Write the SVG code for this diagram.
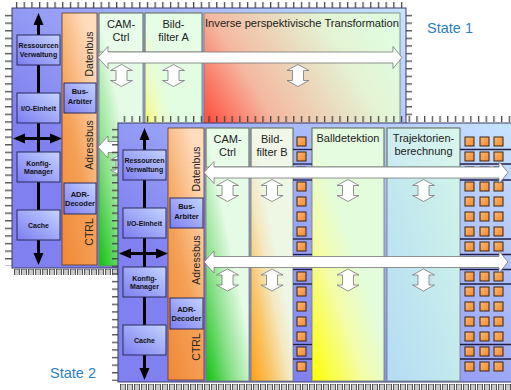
<svg xmlns="http://www.w3.org/2000/svg" xmlns:xlink="http://www.w3.org/1999/xlink" width="511" height="390" viewBox="0 0 511 390">
<style>
.chipedge{stroke:#3a3a6a;stroke-width:1}
.box{fill:url(#boxG);stroke:#2a2a5a;stroke-width:1}
.bt{font-family:"Liberation Sans",Arial,sans-serif;font-weight:bold;font-size:7px;fill:#111;text-anchor:middle}
.bt2{font-family:"Liberation Sans",Arial,sans-serif;font-weight:bold;font-size:7.5px;fill:#111;text-anchor:middle}
.ht{font-family:"Liberation Sans",Arial,sans-serif;font-size:11px;fill:#222;text-anchor:middle}
.vt{font-family:"Liberation Sans",Arial,sans-serif;font-size:10.5px;fill:#222;text-anchor:middle}
.col{stroke:#6f7d6f;stroke-width:0.8}
.hdr{fill:#ffffff;fill-opacity:0.15;stroke:#6f7d6f;stroke-width:0.8}
.orng{fill:url(#orangeG);stroke:#5a3a20;stroke-width:0.8}
.bus{fill:#ffffff;stroke:#777777;stroke-width:0.8}
.blk{stroke:#000;stroke-width:3;fill:none}
.ah{fill:#000}
.sq{fill:url(#sqG);stroke:#3a2410;stroke-width:1}
.sep{stroke:#1e1e48;stroke-width:1.3}
.state{font-family:"Liberation Sans",Arial,sans-serif;font-size:14.5px;fill:#2b7fc4}
</style>
<defs>
<linearGradient id="chip1G" gradientUnits="userSpaceOnUse" x1="194" y1="265" x2="405" y2="8"><stop offset="0" stop-color="#8080f0"/><stop offset="1" stop-color="#c8e4ff"/></linearGradient>
<linearGradient id="chip2G" gradientUnits="userSpaceOnUse" x1="300" y1="380" x2="511" y2="123"><stop offset="0" stop-color="#8080f0"/><stop offset="1" stop-color="#c8e4ff"/></linearGradient>
<linearGradient id="boxG" x1="0" y1="1" x2="1" y2="0"><stop offset="0" stop-color="#7c7cf0"/><stop offset="1" stop-color="#c4d4ff"/></linearGradient>
<linearGradient id="orangeG" x1="0" y1="1" x2="0.6" y2="0"><stop offset="0" stop-color="#f08838"/><stop offset="0.5" stop-color="#f5a055"/><stop offset="1" stop-color="#ffdcbc"/></linearGradient>
<linearGradient id="greenG" x1="0" y1="1" x2="0.5" y2="0.4"><stop offset="0" stop-color="#10c010"/><stop offset="0.5" stop-color="#88e088"/><stop offset="1" stop-color="#e6fbe6"/></linearGradient>
<linearGradient id="yellowAG" x1="0" y1="1" x2="0.5" y2="0.4"><stop offset="0" stop-color="#ffff00"/><stop offset="0.55" stop-color="#f8f870"/><stop offset="0.8" stop-color="#ecfcc8"/><stop offset="1" stop-color="#e2fde2"/></linearGradient>
<linearGradient id="invG" gradientUnits="userSpaceOnUse" x1="205" y1="125" x2="380" y2="15"><stop offset="0" stop-color="#ff4a3a"/><stop offset="0.3" stop-color="#f4b8a0"/><stop offset="0.75" stop-color="#e4f4d4"/><stop offset="1" stop-color="#e0fce0"/></linearGradient>
<linearGradient id="orangeBG" x1="0" y1="1" x2="0.5" y2="0.4"><stop offset="0" stop-color="#ffa010"/><stop offset="0.45" stop-color="#f8c870"/><stop offset="0.75" stop-color="#f4e8c0"/><stop offset="1" stop-color="#eef6e4"/></linearGradient>
<linearGradient id="yellowBG" x1="0" y1="1" x2="0.5" y2="0.4"><stop offset="0" stop-color="#ffff00"/><stop offset="0.6" stop-color="#f4fca8"/><stop offset="1" stop-color="#e2fcdc"/></linearGradient>
<linearGradient id="blueG" x1="0" y1="1" x2="1" y2="0"><stop offset="0" stop-color="#b4dcf4"/><stop offset="1" stop-color="#d4f6e8"/></linearGradient>
<linearGradient id="sqG" x1="0" y1="0" x2="1" y2="1"><stop offset="0" stop-color="#ffb870"/><stop offset="1" stop-color="#f08a30"/></linearGradient>
<pattern id="vtp" patternUnits="userSpaceOnUse" x="14" y="0" width="7.7" height="400"><rect x="2" y="0" width="1.2" height="400" fill="#3a3a3a"/></pattern>
<pattern id="htp" patternUnits="userSpaceOnUse" x="0" y="12" width="20" height="7.6"><rect x="0" y="3" width="20" height="1.2" fill="#3a3a3a"/></pattern>
<pattern id="bp1" patternUnits="userSpaceOnUse" x="14" y="269" width="7" height="7"><rect x="0.5" y="0" width="5" height="7" fill="#c8c8c8" stroke="#333" stroke-width="0.8"/></pattern>
<pattern id="bp2" patternUnits="userSpaceOnUse" x="120" y="384" width="7" height="7"><rect x="0.5" y="0" width="5" height="7" fill="#c8c8c8" stroke="#333" stroke-width="0.8"/></pattern>
<path id="va" class="bus" d="M0,0 L11,6 L5.5,6 L5.5,16 L11,16 L0,22 L-11,16 L-5.5,16 L-5.5,6 L-11,6 Z"/>
<g id="sqcol">
<rect class="sq" x="0" y="137" width="9" height="9"/><rect class="sq" x="0" y="152" width="9" height="9"/><rect class="sq" x="0" y="167" width="9" height="9"/><rect class="sq" x="0" y="182" width="9" height="9"/>
<rect class="sq" x="0" y="197" width="9" height="9"/><rect class="sq" x="0" y="212" width="9" height="9"/><rect class="sq" x="0" y="227" width="9" height="9"/><rect class="sq" x="0" y="242" width="9" height="9"/>
<rect class="sq" x="0" y="257" width="9" height="9"/><rect class="sq" x="0" y="272" width="9" height="9"/><rect class="sq" x="0" y="287" width="9" height="9"/><rect class="sq" x="0" y="302" width="9" height="9"/>
<rect class="sq" x="0" y="317" width="9" height="9"/><rect class="sq" x="0" y="332" width="9" height="9"/><rect class="sq" x="0" y="347" width="9" height="9"/><rect class="sq" x="0" y="362" width="9" height="9"/>
</g>
</defs>
<rect x="0" y="0" width="511" height="390" fill="#ffffff"/>

<!-- ================= STATE 1 ================= -->
<g id="state1">
<g id="s1-pins">
<rect x="14" y="2" width="391" height="6" fill="url(#vtp)"/>
<rect x="5" y="12" width="7" height="254" fill="url(#htp)"/>
<rect x="406" y="12" width="6" height="106" fill="url(#htp)"/>
<rect x="14" y="269" width="392" height="6" fill="url(#bp1)"/>
</g>
<rect id="s1-body" x="12" y="8" width="394" height="260" fill="url(#chip1G)" class="chipedge"/>
<g id="s1-connectors-back">
<line x1="38.5" y1="24" x2="38.5" y2="254" class="blk"/>
<polygon class="ah" points="38.5,13 43.5,25 33.5,25"/>
<polygon class="ah" points="38.5,265 43.5,253 33.5,253"/>
<line x1="24" y1="138.5" x2="51" y2="138.5" class="blk"/>
<polygon class="ah" points="13,138.5 25,133.5 25,143.5"/>
<polygon class="ah" points="62,138.5 50,133.5 50,143.5"/>
</g>
<g id="s1-ressourcen"><rect class="box" x="17" y="35" width="43" height="30"/><text class="bt" x="38.5" y="48">Ressourcen</text><text class="bt" x="38.5" y="56.5">Verwaltung</text></g>
<g id="s1-io"><rect class="box" x="17" y="93" width="43" height="30"/><text class="bt" x="38.5" y="111">I/O-Einheit</text></g>
<g id="s1-konfig"><rect class="box" x="17" y="152" width="43" height="30"/><text class="bt" x="38.5" y="165.5">Konfig-</text><text class="bt" x="38.5" y="174">Manager</text></g>
<g id="s1-cache"><rect class="box" x="17" y="210" width="43" height="30"/><text class="bt" x="38.5" y="227.5">Cache</text></g>
<g id="s1-bus">
<rect class="orng" x="62" y="13" width="35" height="252"/>
<text class="vt" transform="translate(93,54) rotate(-90)">Datenbus</text>
<text class="vt" transform="translate(93,145) rotate(-90)">Adressbus</text>
<text class="vt" transform="translate(93,232) rotate(-90)">CTRL</text>
</g>
<g id="s1-arbiter"><rect class="box" x="64" y="83" width="32" height="30"/><text class="bt2" x="80" y="94">Bus-</text><text class="bt2" x="80" y="104">Arbiter</text></g>
<g id="s1-decoder"><rect class="box" x="64" y="183" width="32" height="31"/><text class="bt2" x="80" y="197">ADR-</text><text class="bt2" x="80" y="206">Decoder</text></g>
<g id="s1-camctrl"><rect class="col" x="99" y="13" width="44" height="253" fill="url(#greenG)"/><rect class="hdr" x="99" y="13" width="44" height="39"/><text class="ht" x="121" y="28">CAM-</text><text class="ht" x="121" y="40.5">Ctrl</text></g>
<g id="s1-bildfilterA"><rect class="col" x="145" y="13" width="57" height="253" fill="url(#yellowAG)"/><rect class="hdr" x="145" y="13" width="57" height="39"/><text class="ht" x="173.5" y="28">Bild-</text><text class="ht" x="173.5" y="40.5">filter A</text></g>
<g id="s1-inverse"><rect class="col" x="204" y="13" width="196" height="253" fill="url(#invG)"/><text class="ht" x="205" y="27" style="text-anchor:start" textLength="194" lengthAdjust="spacingAndGlyphs">Inverse perspektivische Transformation</text></g>
<g id="s1-connectors">
<path class="bus" d="M98,57.5 L108,46.5 L108,52 L393,52 L393,46.5 L402,57.5 L393,68.5 L393,63 L108,63 L108,68.5 Z"/>
<path class="bus" d="M98,147 L108,136 L108,141.5 L393,141.5 L393,136 L402,147 L393,158 L393,152.5 L108,152.5 L108,158 Z"/>
<use xlink:href="#va" x="121.5" y="64.5"/><use xlink:href="#va" x="173.5" y="64.5"/><use xlink:href="#va" x="298" y="64.5"/>
<use xlink:href="#va" x="121.5" y="154"/><use xlink:href="#va" x="173.5" y="154"/><use xlink:href="#va" x="298" y="154"/>
</g>
</g>
<text class="state" x="427" y="33">State 1</text>

<!-- ================= STATE 2 ================= -->
<g id="state2">
<g id="s2-pins">
<rect x="121" y="116" width="390" height="6" fill="url(#vtp)"/>
<rect x="112" y="127" width="6" height="254" fill="url(#htp)"/>
<rect x="120" y="384" width="391" height="6" fill="url(#bp2)"/>
</g>
<rect id="s2-body" x="118" y="123" width="400" height="259" fill="url(#chip2G)" class="chipedge"/>
<g id="s2-connectors-back">
<line x1="144.5" y1="139" x2="144.5" y2="369" class="blk"/>
<polygon class="ah" points="144.5,128 149.5,140 139.5,140"/>
<polygon class="ah" points="144.5,380 149.5,368 139.5,368"/>
<line x1="130" y1="253.5" x2="157" y2="253.5" class="blk"/>
<polygon class="ah" points="119,253.5 131,248.5 131,258.5"/>
<polygon class="ah" points="168,253.5 156,248.5 156,258.5"/>
</g>
<g id="s2-ressourcen"><rect class="box" x="123" y="150" width="43" height="30"/><text class="bt" x="144.5" y="163">Ressourcen</text><text class="bt" x="144.5" y="171.5">Verwaltung</text></g>
<g id="s2-io"><rect class="box" x="123" y="208" width="43" height="30"/><text class="bt" x="144.5" y="226">I/O-Einheit</text></g>
<g id="s2-konfig"><rect class="box" x="123" y="267" width="43" height="30"/><text class="bt" x="144.5" y="280.5">Konfig-</text><text class="bt" x="144.5" y="289">Manager</text></g>
<g id="s2-cache"><rect class="box" x="123" y="325" width="43" height="30"/><text class="bt" x="144.5" y="342.5">Cache</text></g>
<g id="s2-bus">
<rect class="orng" x="168" y="128" width="36" height="252"/>
<text class="vt" transform="translate(199.5,169) rotate(-90)">Datenbus</text>
<text class="vt" transform="translate(199.5,260) rotate(-90)">Adressbus</text>
<text class="vt" transform="translate(199.5,347) rotate(-90)">CTRL</text>
</g>
<g id="s2-arbiter"><rect class="box" x="170" y="198" width="33" height="30"/><text class="bt2" x="186.5" y="209">Bus-</text><text class="bt2" x="186.5" y="219">Arbiter</text></g>
<g id="s2-decoder"><rect class="box" x="170" y="298" width="33" height="31"/><text class="bt2" x="186.5" y="312">ADR-</text><text class="bt2" x="186.5" y="321">Decoder</text></g>
<g id="s2-camctrl"><rect class="col" x="206" y="128" width="43" height="253" fill="url(#greenG)"/><rect class="hdr" x="206" y="128" width="43" height="39"/><text class="ht" x="227.5" y="143">CAM-</text><text class="ht" x="227.5" y="155.5">Ctrl</text></g>
<g id="s2-bildfilterB"><rect class="col" x="251" y="128" width="42" height="253" fill="url(#orangeBG)"/><rect class="hdr" x="251" y="128" width="42" height="39"/><text class="ht" x="272" y="143">Bild-</text><text class="ht" x="272" y="155.5">filter B</text></g>
<g id="s2-balldetektion"><rect class="col" x="312" y="128" width="72" height="253" fill="url(#yellowBG)"/><rect class="hdr" x="312" y="128" width="72" height="39"/><text class="ht" x="348" y="142">Balldetektion</text></g>
<g id="s2-trajektorien"><rect class="col" x="387" y="128" width="73" height="253" fill="url(#blueG)"/><rect class="hdr" x="387" y="128" width="73" height="39"/><text class="ht" x="423.5" y="142">Trajektorien-</text><text class="ht" x="423.5" y="154.5">berechnung</text></g>
<g id="s2-io-strip-left">
<line class="sep" x1="293" y1="149.5" x2="312" y2="149.5"/><line class="sep" x1="293" y1="164" x2="312" y2="164"/><line class="sep" x1="293" y1="180" x2="312" y2="180"/>
<line class="sep" x1="293" y1="239" x2="312" y2="239"/><line class="sep" x1="293" y1="254.5" x2="312" y2="254.5"/><line class="sep" x1="293" y1="269.5" x2="312" y2="269.5"/>
<line class="sep" x1="293" y1="284" x2="312" y2="284"/><line class="sep" x1="293" y1="344.5" x2="312" y2="344.5"/><line class="sep" x1="293" y1="359" x2="312" y2="359"/>
<use xlink:href="#sqcol" x="297" y="0"/>
</g>
<g id="s2-io-strip-right">
<line class="sep" x1="460" y1="149.5" x2="511" y2="149.5"/><line class="sep" x1="460" y1="164" x2="511" y2="164"/><line class="sep" x1="460" y1="180" x2="511" y2="180"/>
<line class="sep" x1="460" y1="239" x2="511" y2="239"/><line class="sep" x1="460" y1="254.5" x2="511" y2="254.5"/><line class="sep" x1="460" y1="269.5" x2="511" y2="269.5"/>
<line class="sep" x1="460" y1="284" x2="511" y2="284"/><line class="sep" x1="460" y1="344.5" x2="511" y2="344.5"/><line class="sep" x1="460" y1="359" x2="511" y2="359"/>
<use xlink:href="#sqcol" x="465" y="0"/><use xlink:href="#sqcol" x="480" y="0"/><use xlink:href="#sqcol" x="494" y="0"/>
</g>
<g id="s2-connectors">
<path class="bus" d="M204,172.5 L214,161.5 L214,167 L499,167 L499,161.5 L508,172.5 L499,183.5 L499,178 L214,178 L214,183.5 Z"/>
<path class="bus" d="M204,262 L214,251 L214,256.5 L499,256.5 L499,251 L508,262 L499,273 L499,267.5 L214,267.5 L214,273 Z"/>
<use xlink:href="#va" x="227.5" y="179.5"/><use xlink:href="#va" x="272" y="179.5"/><use xlink:href="#va" x="348" y="179.5"/><use xlink:href="#va" x="423.5" y="179.5"/>
<use xlink:href="#va" x="227.5" y="269"/><use xlink:href="#va" x="272" y="269"/><use xlink:href="#va" x="348" y="269"/><use xlink:href="#va" x="423.5" y="269"/>
</g>
</g>
<text class="state" x="50" y="378">State 2</text>
</svg>
